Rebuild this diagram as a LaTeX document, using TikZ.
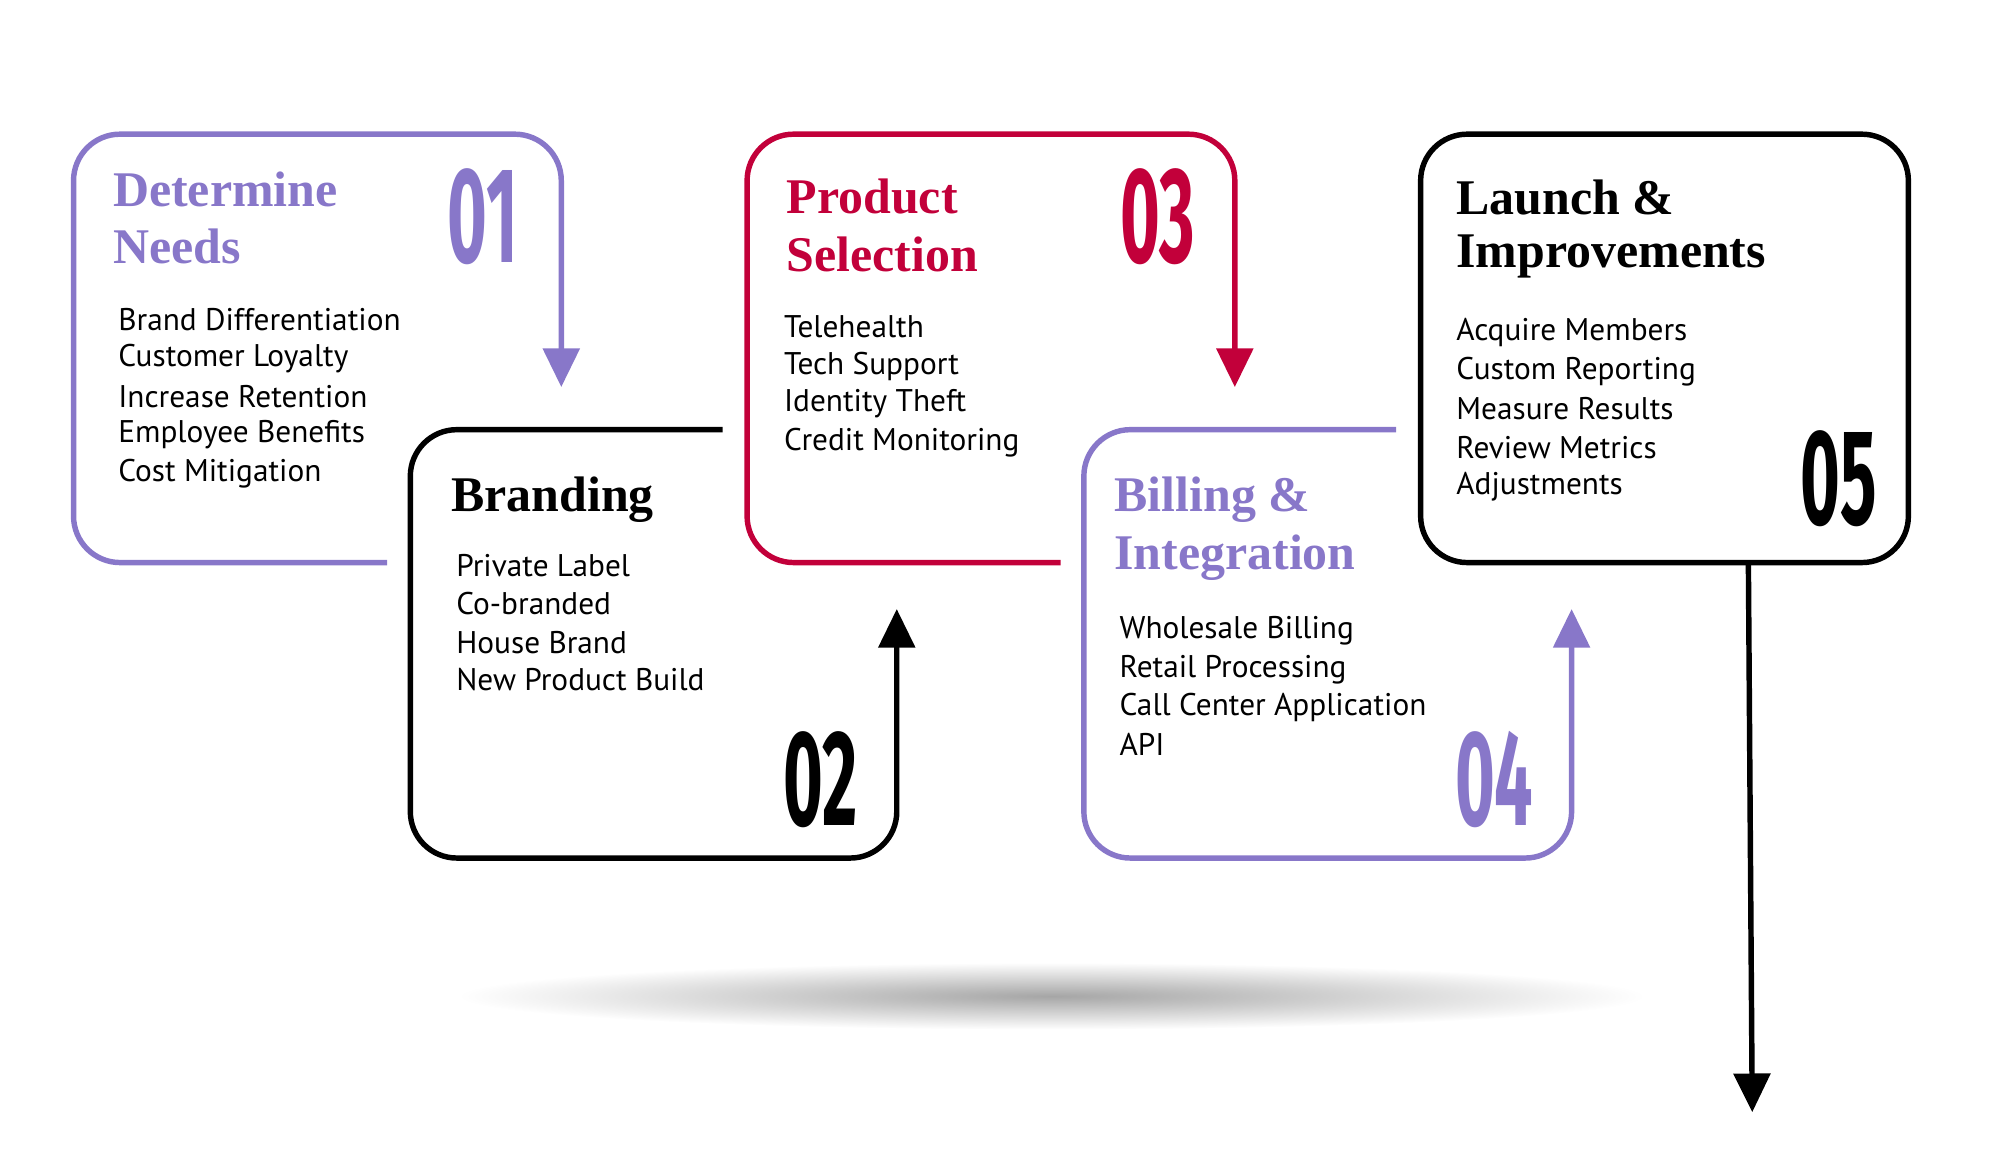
\documentclass[tikz,border=0pt]{standalone}
\usepackage{fontspec}
\setmainfont{Liberation Serif}
\setsansfont{PT Sans}
\newfontfamily\numfont{Fira Sans}
\usetikzlibrary{arrows.meta}
\definecolor{pur}{HTML}{8877C9}
\definecolor{rd}{HTML}{C2003A}
\begin{document}
\begin{tikzpicture}[x=0.01cm,y=-0.01cm,
  box/.style={line width=1.2pt,rounded corners=0.36cm},
  arr/.style={-{Triangle[length=0.3cm,width=0.28cm]}},
  ttl/.style={anchor=west,font=\fontsize{11pt}{12pt}\selectfont\bfseries,inner sep=0pt},
  bod/.style={anchor=west,font=\sffamily\fontsize{6.9pt}{8pt}\selectfont,inner sep=0pt},
  num/.style={font=\numfont\fontsize{30pt}{30pt}\selectfont\bfseries,inner sep=0pt}]
\useasboundingbox (0,0) rectangle (1550,894.4);
\shade[inner color=black!35,outer color=white] (815,772) ellipse [x radius=460,y radius=26];
% box 1
\draw[box,arr,pur] (300,436) -- (57,436) -- (57,104) -- (435,104) -- (435,300);
\node[ttl,pur] (t1a) at (87,147) {Determine};
\node[ttl,pur] (t1b) at (87,191) {Needs};
\node[num,pur] (n1) at (374,168) {\scalebox{0.5}[1]{01}};
\foreach \t/\y [count=\i] in {Brand Differentiation/248,Customer Loyalty/278,Increase Retention/307,Employee Benefits/337,Cost Mitigation/367}
  \node[bod] (b1\i) at (91,\y) {\t};
% box 2
\draw[box,arr,black] (560,333) -- (318,333) -- (318,665) -- (695,665) -- (695,472);
\node[ttl] (t2) at (349,387) {Branding};
\node[num] (n2) at (636,604) {\scalebox{0.5}[1]{02}};
\foreach \t/\y [count=\i] in {Private Label/438,Co-branded/468,House Brand/498,New Product Build/527}
  \node[bod] (b2\i) at (353,\y) {\t};
% box 3
\draw[box,arr,rd] (822,436) -- (579,436) -- (579,104) -- (957,104) -- (957,300);
\node[ttl,rd] (t3a) at (609,152) {Product};
\node[ttl,rd] (t3b) at (609,197) {Selection};
\node[num,rd] (n3) at (897,168) {\scalebox{0.5}[1]{03}};
\foreach \t/\y [count=\i] in {Telehealth/253,Tech Support/284,Identity Theft/313,Credit Monitoring/343}
  \node[bod] (b3\i) at (607,\y) {\t};
% box 4
\draw[box,arr,pur] (1082,333) -- (840,333) -- (840,665) -- (1218,665) -- (1218,472);
\node[ttl,pur] (t4a) at (863,387) {Billing \&};
\node[ttl,pur] (t4b) at (863,432) {Integration};
\node[num,pur] (n4) at (1158,604) {\scalebox{0.5}[1]{04}};
\foreach \t/\y [count=\i] in {Wholesale Billing/489,Retail Processing/519,Call Center Application/548,API/577}
  \node[bod] (b4\i) at (867,\y) {\t};
% box 5
\draw[box,black] (1101,104) rectangle (1479,436);
\coordinate (s5) at (1355,436);
\coordinate (e5) at (1358,862);
\draw[line width=1.2pt,arr] (s5) -- (e5);
\node[ttl] (t5a) at (1128,153) {Launch \&};
\node[ttl] (t5b) at (1128,199) {Improvements};
\node[num] (n5) at (1425,371) {\scalebox{0.5}[1]{05}};
\foreach \t/\y [count=\i] in {Acquire Members/258,Custom Reporting/288,Measure Results/317,Review Metrics/347,Adjustments/377}
  \node[bod] (b5\i) at (1128,\y) {\t};
\end{tikzpicture}
\end{document}
